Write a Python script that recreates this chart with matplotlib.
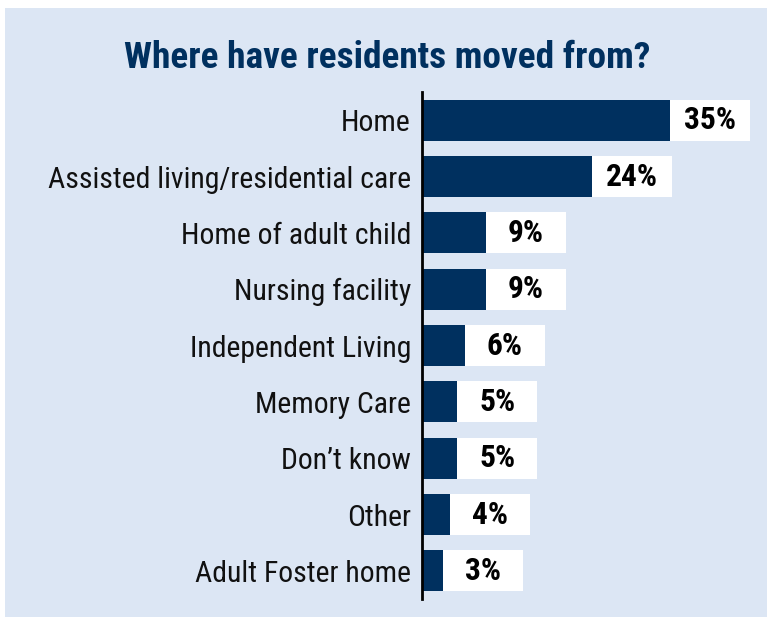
import matplotlib.pyplot as plt
from matplotlib.patches import Rectangle
from matplotlib import font_manager

categories = ["Home", "Assisted living/residential care", "Home of adult child",
              "Nursing facility", "Independent Living", "Memory Care",
              "Don\u2019t know", "Other", "Adult Foster home"]
percents = [35, 24, 9, 9, 6, 5, 5, 4, 3]

navy = "#00305f"
panel = "#dce6f4"

# condensed sans, like the original's Helvetica Condensed
installed = {f.name for f in font_manager.fontManager.ttflist}
font = "DejaVu Sans"
for name in ["Roboto Condensed", "Archivo Narrow", "Liberation Sans Narrow"]:
    if name in installed:
        font = name
        break
fam = [font, "DejaVu Sans"]

W, H = 775, 619
fig = plt.figure(figsize=(W / 100, H / 100), dpi=100)
fig.patch.set_facecolor("white")

fig.patches.append(Rectangle((5 / W, 2 / H), 762 / W, 609 / H,
                             transform=fig.transFigure, facecolor=panel,
                             edgecolor="none", zorder=-10))

px = 7.09  # pixels per percent
ax = fig.add_axes([422 / W, 20 / H, 345 / W, 507 / H])
ax.set_zorder(5)
ax.set_facecolor("none")
ax.set_xlim(0, 345 / px)
ax.set_ylim(len(categories) - 0.5, -0.5)

ypos = list(range(len(categories)))
box_w = 80 / px
ax.barh(ypos, percents, height=0.73, color=navy, zorder=2)
ax.barh(ypos, [box_w] * len(percents), left=percents, height=0.73,
        color="white", zorder=2)

pct_texts = []
for y, v in zip(ypos, percents):
    t = ax.text(v + box_w / 2, y, f"{v}%", ha="center", va="center",
                fontsize=22, fontweight="bold", family=fam, color="black", zorder=3)
    pct_texts.append(t)

ax.set_yticks(ypos)
ax.set_yticklabels(categories, fontsize=22, family=fam, color="#111111")
ax.tick_params(axis="y", length=0, pad=8)
ax.set_xticks([])
for side in ["top", "right", "bottom"]:
    ax.spines[side].set_visible(False)
ax.spines["left"].set_linewidth(2)
ax.spines["left"].set_color("black")

title = fig.text(387 / W, 1 - 68 / H, "Where have residents moved from?", ha="center",
                 va="baseline", fontsize=27, fontweight="bold", family=fam, color=navy)

# font size: halfway between matching the original's text width and its cap height
r = fig.canvas.get_renderer()
w = title.get_window_extent(r).width
title.set_fontsize((27 * 521 / w + 27.3) / 2)
labels = ax.get_yticklabels()
w = max(l.get_window_extent(r).width for l in labels)
for l in labels:
    l.set_fontsize((22 * 353 / w + 22) / 2)
w = pct_texts[0].get_window_extent(r).width
for t in pct_texts:
    t.set_fontsize((22 * 54 / w + 22) / 2)

fig.savefig("out.png", dpi=100)
